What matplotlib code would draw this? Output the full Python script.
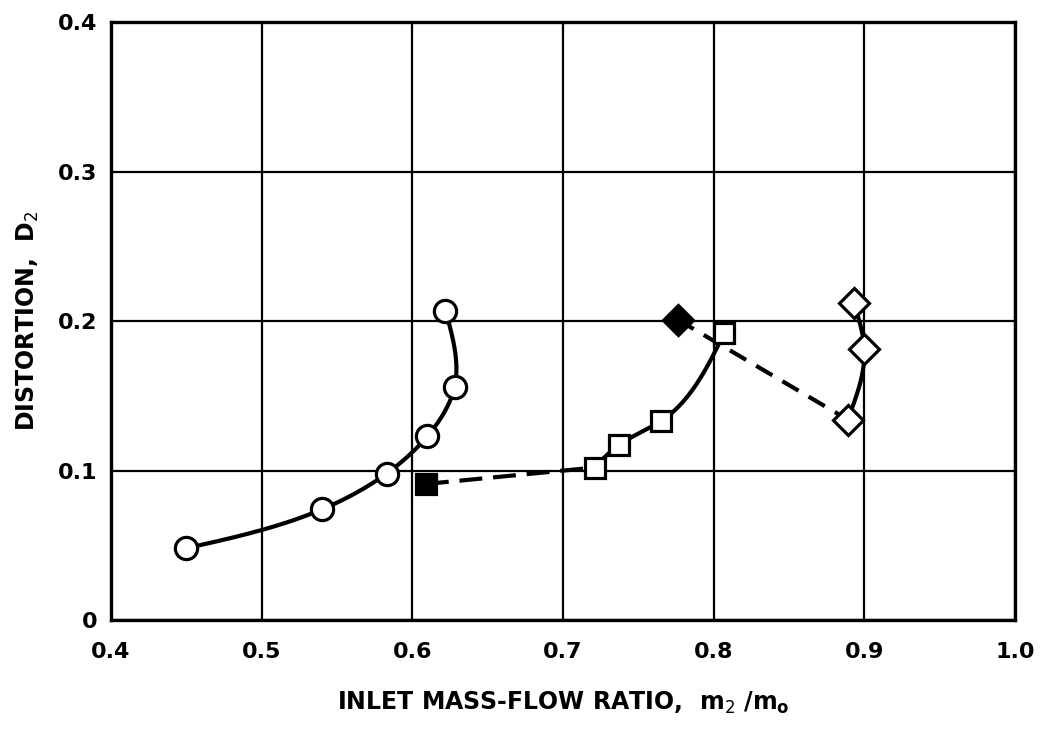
import numpy as np
import matplotlib
matplotlib.use("Agg")
import matplotlib.pyplot as plt

# ---- data ----
circle_x = [0.450, 0.540, 0.583, 0.610, 0.628, 0.622]
circle_y = [0.048, 0.074, 0.098, 0.123, 0.156, 0.207]

sq_open_x = [0.721, 0.737, 0.765, 0.807]
sq_open_y = [0.102, 0.117, 0.133, 0.192]
sq_fill_x = [0.609]
sq_fill_y = [0.091]

dia_open_x = [0.889, 0.900, 0.893]
dia_open_y = [0.134, 0.181, 0.212]
dia_fill_x = [0.776]
dia_fill_y = [0.201]

xticks = [0.4, 0.5, 0.6, 0.7, 0.8, 0.9, 1.0]
xticklabels = ["0.4", "0.5", "0.6", "0.7", "0.8", "0.9", "1.0"]
yticks = [0.0, 0.1, 0.2, 0.3, 0.4]
yticklabels = ["0", "0.1", "0.2", "0.3", "0.4"]


def natural_spline(t, v, tt):
    n = len(t)
    h = np.diff(t)
    A = np.zeros((n, n))
    r = np.zeros(n)
    A[0, 0] = 1
    A[-1, -1] = 1
    for i in range(1, n - 1):
        A[i, i - 1] = h[i - 1]
        A[i, i] = 2 * (h[i - 1] + h[i])
        A[i, i + 1] = h[i]
        r[i] = 3 * ((v[i + 1] - v[i]) / h[i] - (v[i] - v[i - 1]) / h[i - 1])
    c = np.linalg.solve(A, r)
    out = np.empty_like(tt)
    for k, x in enumerate(tt):
        i = min(np.searchsorted(t, x, side="right") - 1, n - 2)
        i = max(i, 0)
        d = x - t[i]
        b = (v[i + 1] - v[i]) / h[i] - h[i] * (2 * c[i] + c[i + 1]) / 3
        dd = (c[i + 1] - c[i]) / (3 * h[i])
        out[k] = v[i] + b * d + c[i] * d ** 2 + dd * d ** 3
    return out


def smooth(xs, ys, n=200):
    """Fairing curve (chord-length natural cubic spline) through the points."""
    xs = np.asarray(xs, float)
    ys = np.asarray(ys, float)
    t = np.concatenate([[0], np.cumsum(np.hypot(np.diff(xs), np.diff(ys)))])
    tt = np.linspace(0, t[-1], n)
    return natural_spline(t, xs, tt), natural_spline(t, ys, tt)


fig = plt.figure(figsize=(10.4, 7.34), dpi=100)
ax = fig.add_axes([0.1067, 0.1553, 0.8693, 0.8147])

lw = 3.0
cx, cy = smooth(circle_x, circle_y)
ax.plot(cx, cy, color="black", lw=lw, zorder=3, solid_capstyle="round")
sx, sy = smooth(sq_open_x, sq_open_y)
ax.plot(sx, sy, color="black", lw=lw, zorder=3, solid_capstyle="round")
dx, dy = smooth(dia_open_x, dia_open_y)
ax.plot(dx, dy, color="black", lw=lw, zorder=3, solid_capstyle="round")
# dashed connectors
ax.plot([sq_fill_x[0], sq_open_x[0]], [sq_fill_y[0], sq_open_y[0]], color="black",
        lw=lw, ls=(0, (5.5, 2.6)), zorder=3)
ax.plot([dia_fill_x[0], dia_open_x[0]], [dia_fill_y[0], dia_open_y[0]], color="black",
        lw=lw, ls=(0, (4.5, 2.8)), zorder=3)

mew = 2.3
ax.plot(circle_x, circle_y, "o", ms=16, mfc="white", mec="black", mew=mew, ls="none", zorder=4)
ax.plot(sq_open_x, sq_open_y, "s", ms=14, mfc="white", mec="black", mew=mew, ls="none", zorder=4)
ax.plot(sq_fill_x, sq_fill_y, "s", ms=14, mfc="black", mec="black", mew=mew, ls="none", zorder=4)
ax.plot(dia_open_x, dia_open_y, "D", ms=15, mfc="white", mec="black", mew=mew, ls="none", zorder=4)
ax.plot(dia_fill_x, dia_fill_y, "D", ms=15, mfc="black", mec="black", mew=mew, ls="none", zorder=4)

ax.set_xlim(0.4, 1.0)
ax.set_ylim(0.0, 0.4)
ax.set_xticks(xticks)
ax.set_xticklabels(xticklabels)
ax.set_yticks(yticks)
ax.set_yticklabels(yticklabels)
ax.grid(True, color="black", lw=1.6)
ax.set_axisbelow(True)
for s in ax.spines.values():
    s.set_linewidth(2.4)
ax.tick_params(axis="x", length=0, pad=16, labelsize=16)
ax.tick_params(axis="y", length=0, pad=10, labelsize=16)
for lab in ax.get_xticklabels() + ax.get_yticklabels():
    lab.set_fontweight("bold")

ax.set_xlabel(r"INLET MASS-FLOW RATIO,  m$_2$ /m$_\mathregular{o}$", fontsize=17,
              fontweight="bold", labelpad=20)
ax.set_ylabel(r"DISTORTION,  D$_2$", fontsize=17, fontweight="bold", labelpad=12)

fig.savefig("out.png", dpi=100)
